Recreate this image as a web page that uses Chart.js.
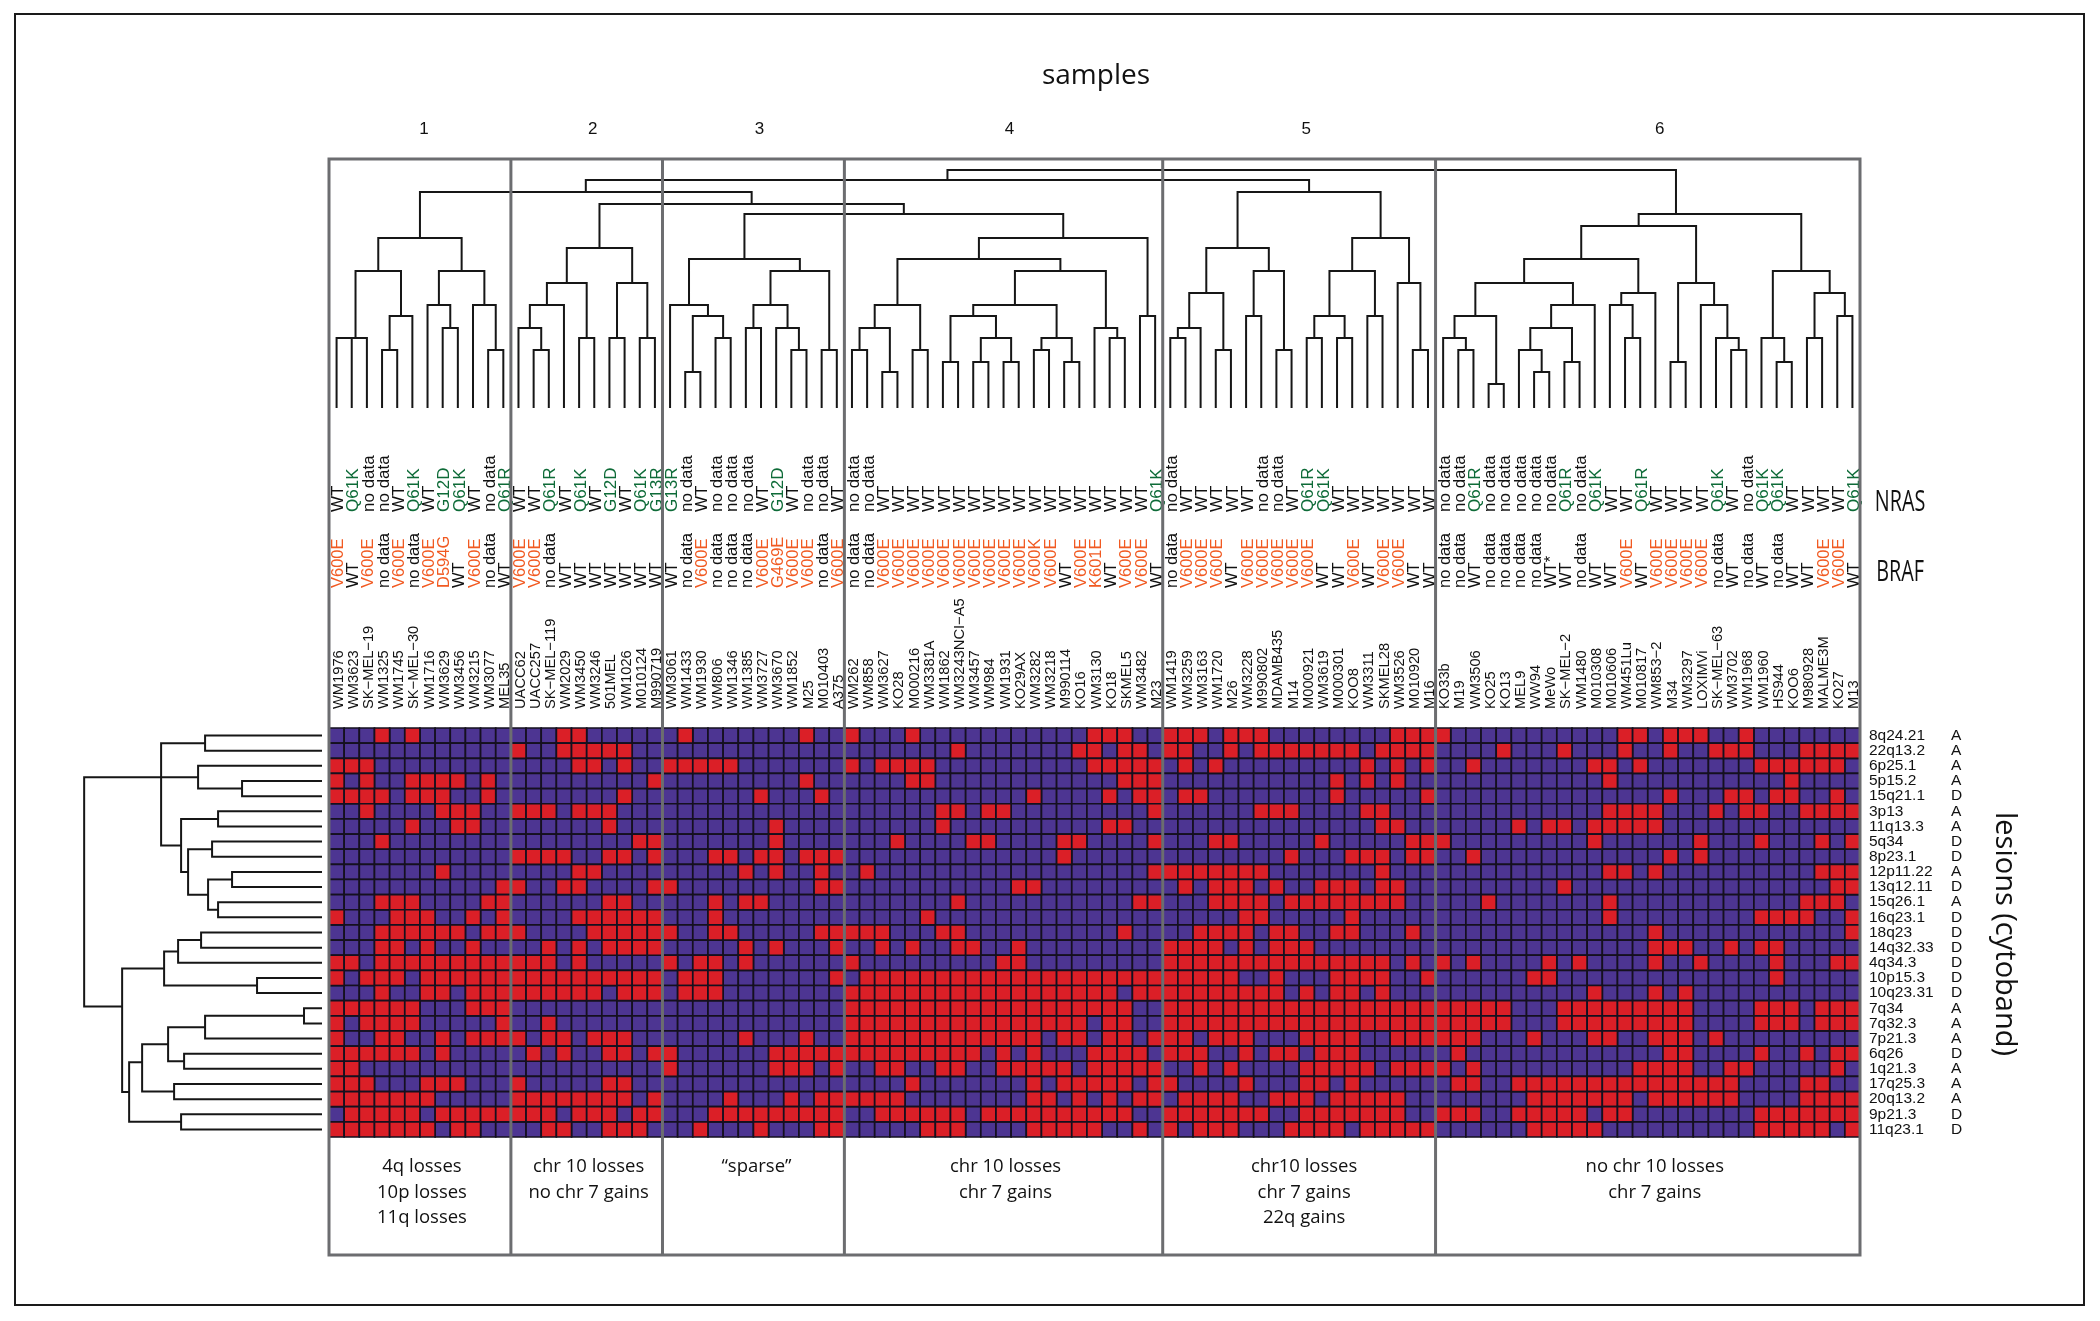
<!DOCTYPE html>
<html><head><meta charset="utf-8">
<style>html,body{margin:0;padding:0;background:#fff}canvas{display:block}</style>
<script src="https://cdn.jsdelivr.net/npm/chart.js@4"></script>
</head><body><canvas id="c" width="2100" height="1321"></canvas>
<script>
const samples = ["WM1976","WM3623","SK−MEL−19","WM1325","WM1745","SK−MEL−30","WM1716","WM3629","WM3456","WM3215","WM3077","MEL35",
"UACC62","UACC257","SK−MEL−119","WM2029","WM3450","WM3246","501MEL","WM1026","M010124","M990719",
"WM3061","WM1433","WM1930","WM806","WM1346","WM1385","WM3727","WM3670","WM1852","M25","M010403","A375",
"WM262","WM858","WM3627","KO28","M000216","WM3381A","WM1862","WM3243NCI−A5","WM3457","WM984","WM1931","KO29AX","WM3282","WM3218","M990114","KO16","WM3130","KO18","SKMEL5","WM3482","M23",
"WM1419","WM3259","WM3163","WM1720","M26","WM3228","M990802","MDAMB435","M14","M000921","WM3619","M000301","KOO8","WM3311","SKMEL28","WM3526","M010920","M16",
"KO33b","M19","WM3506","KO25","KO13","MEL9","WW94","MeWo","SK−MEL−2","WM1480","M010308","M010606","WM451Lu","M010817","WM853−2","M34","WM3297","LOXIMVi","SK−MEL−63","WM3702","WM1968","WM1960","HS944","KOO6","M980928","MALME3M","KO27","M13"];
const braf = ["V600E","WT","V600E","no data","V600E","no data","V600E","D594G","WT","V600E","no data","WT",
"V600E","V600E","no data","WT","WT","WT","WT","WT","WT","WT",
"WT","no data","V600E","no data","no data","no data","V600E","G469E","V600E","V600E","no data","V600E",
"no data","no data","V600E","V600E","V600E","V600E","V600E","V600E","V600E","V600E","V600E","V600E","V600K","V600E","WT","V600E","K601E","WT","V600E","V600E","WT",
"no data","V600E","V600E","V600E","WT","V600E","V600E","V600E","V600E","V600E","WT","WT","V600E","WT","V600E","V600E","WT","WT",
"no data","no data","WT","no data","no data","no data","no data","WT*","WT","no data","WT","WT","V600E","WT","V600E","V600E","V600E","V600E","no data","WT","no data","WT","no data","WT","WT","V600E","V600E","WT"];
const nras = ["WT","Q61K","no data","no data","WT","Q61K","WT","G12D","Q61K","WT","no data","Q61R",
"WT","WT","Q61R","WT","Q61K","WT","G12D","WT","Q61K","G13R",
"G13R","no data","WT","no data","no data","no data","WT","G12D","WT","no data","no data","WT",
"no data","no data","WT","WT","WT","WT","WT","WT","WT","WT","WT","WT","WT","WT","WT","WT","WT","WT","WT","WT","Q61K",
"no data","WT","WT","WT","WT","WT","no data","no data","WT","Q61R","Q61K","WT","WT","WT","WT","WT","WT","WT",
"no data","no data","Q61R","no data","no data","no data","no data","no data","Q61R","no data","Q61K","WT","WT","Q61R","WT","WT","WT","WT","Q61K","WT","no data","Q61K","Q61K","WT","WT","WT","WT","Q61K"];
const lesions = ["8q24.21","22q13.2","6p25.1","5p15.2","15q21.1","3p13","11q13.3","5q34","8p23.1","12p11.22","13q12.11","15q26.1","16q23.1","18q23","14q32.33","4q34.3","10p15.3","10q23.31","7q34","7q32.3","7p21.3","6q26","1q21.3","17q25.3","20q13.2","9p21.3","11q23.1"];
const lesionTypes = ["A","A","A","A","D","A","A","D","D","A","D","A","D","D","D","D","D","D","A","A","A","D","A","A","A","D","D"];
const clusterSizes = [12,10,12,21,18,28];
const clusterNames = ["1","2","3","4","5","6"];
const clusterNotes = [["4q losses","10p losses","11q losses"],["chr 10 losses","no chr 7 gains"],["“sparse”"],["chr 10 losses","chr 7 gains"],["chr10 losses","chr 7 gains","22q gains"],["no chr 10 losses","chr 7 gains"]];
// for each lesion (row): the sample columns that carry the lesion (red cells)
const lesionCols = [
[3,5,15,16,23,31,34,38,50,51,52,55,56,57,59,60,61,70,71,72,73,85,86,88,89,90,93],
[12,15,16,17,18,19,41,49,50,52,53,55,56,59,61,62,63,64,65,66,67,69,70,71,72,77,81,85,88,91,92,93,97,98,99,100],
[0,1,2,16,17,19,22,23,24,25,26,34,36,37,38,39,50,51,52,53,54,56,58,68,70,72,75,83,84,86,94,95,96,97,98,99],
[0,2,5,6,7,8,10,21,31,38,39,52,53,54,66,68,70,84,96],
[0,1,2,3,5,6,7,10,19,28,32,46,51,53,54,56,57,66,72,88,92,93,95,96,99],
[2,7,8,9,12,13,14,16,17,18,40,41,43,44,54,61,62,63,68,69,84,85,86,87,91,93,94,97,98,99,100],
[5,8,9,18,29,40,51,52,69,70,78,80,81,83,84,85,86,87],
[3,20,21,29,37,42,43,48,49,54,58,59,65,71,72,73,83,90,94,98,100],
[12,13,14,15,18,19,21,25,26,28,29,31,32,33,48,63,67,68,69,71,72,75,88,90],
[7,16,17,27,29,32,35,54,55,56,57,58,59,60,61,69,84,85,87,98,99,100],
[11,12,15,16,21,22,32,33,45,46,56,58,59,60,62,65,66,67,69,70,81,99,100],
[3,4,5,10,11,18,19,25,27,28,41,53,54,58,59,60,61,63,64,65,66,67,68,69,70,76,84,97,98,99],
[0,4,5,6,9,11,16,17,18,19,20,21,25,39,60,61,67,84,94,95,96,97,100],
[3,4,5,6,7,8,10,11,12,17,18,19,20,21,22,25,26,32,33,34,35,36,40,41,52,57,58,59,60,62,63,66,67,71,87,100],
[3,4,6,9,14,16,18,19,20,21,27,29,33,36,38,41,42,45,55,56,57,58,60,62,63,64,87,88,89,92,94,95],
[0,1,3,4,5,6,7,8,9,10,11,12,13,14,16,22,24,25,27,34,44,45,55,56,57,58,59,60,61,62,63,64,65,66,67,68,69,71,73,75,80,82,87,90,95,99,100],
[0,2,3,4,6,7,8,9,10,11,12,13,14,15,16,17,18,19,20,21,23,24,25,33,35,36,37,38,39,40,41,42,43,44,45,46,47,48,49,50,51,52,53,54,55,56,57,58,59,62,66,67,68,69,72,79,80,95],
[3,6,7,9,10,11,12,13,14,15,16,17,19,20,21,23,24,25,34,35,36,37,38,39,40,41,42,43,44,45,46,47,48,49,50,51,53,54,55,56,57,58,59,60,61,62,64,66,67,69,83,87,89],
[0,1,2,3,4,5,9,10,11,34,35,36,37,38,39,40,41,42,43,44,45,46,47,48,49,50,51,52,55,56,57,58,59,60,61,62,63,64,65,66,67,68,69,70,71,72,73,74,75,76,77,81,82,83,84,85,86,87,88,89,94,95,96,98,99,100],
[0,2,3,4,5,11,14,34,35,36,37,38,39,40,41,42,43,44,45,46,47,48,49,51,52,55,56,57,58,59,60,61,62,63,64,65,66,67,68,69,70,71,72,73,74,75,76,77,81,82,83,84,85,86,87,88,89,94,95,96,98,99,100],
[0,3,4,7,9,10,11,12,14,15,17,18,19,27,31,34,35,36,37,38,39,40,41,42,43,44,45,46,48,49,51,52,54,55,56,58,59,60,64,65,66,67,70,71,72,73,74,75,79,83,84,87,88,89,91],
[0,1,2,3,4,5,7,13,15,18,19,21,22,29,30,31,32,33,34,35,36,37,38,39,40,41,42,44,46,50,51,52,53,55,56,57,60,62,63,65,66,67,74,88,89,94,97,99,100],
[0,1,22,29,30,31,33,36,37,40,41,44,45,46,47,48,50,51,52,53,54,57,59,64,65,66,67,68,70,71,72,73,75,86,87,88,89,92,93,99],
[0,1,2,6,7,8,12,18,19,38,46,48,49,50,51,52,54,55,60,64,65,67,74,75,78,79,80,81,82,83,84,85,86,87,88,89,90,91,92,97,98],
[0,1,2,3,4,5,6,12,13,14,15,16,17,18,19,21,26,30,32,33,34,35,36,37,46,47,49,51,53,54,56,57,58,59,62,63,64,66,67,68,69,70,79,80,81,82,83,84,85,87,88,89,90,91,92,97,98,99,100],
[1,2,3,4,5,7,8,9,10,11,12,13,14,16,17,18,20,21,25,26,27,28,29,30,31,32,33,36,37,38,39,40,41,43,44,45,46,47,48,49,50,51,52,55,56,57,58,59,60,61,64,65,66,67,68,69,70,73,74,75,78,79,80,81,82,84,85,94,95,96,97,98,99,100],
[0,1,2,3,4,5,6,8,9,14,15,18,19,20,24,28,32,33,39,40,41,46,47,48,49,50,53,55,57,58,59,63,64,65,66,68,69,70,71,72,79,80,81,82,83,94,95,96,97,98,100]
];
// dendrograms: [merge height, child, child, (optional drawn position)]; a number is a leaf
const clusters1to4 = [216,[170,[137,[70,[70,0,1],2],[92,[58,3,4],5]],[137,[103,6,[80,7,8]],[103,9,[58,10,11]]]],
  [204,[160,[125,[103,[80,12,[58,13,14]],15],[70,16,17]],[125,[70,18,19],[70,20,21]]],
   [194,[149,[103,22,[92,[36,23,24],[70,25,26]]],[137,[103,[80,27,28],[80,29,[58,30,31]]],[58,32,33]]],
    [170,[149,[103,[80,[58,34,35],[36,36,37]],[58,38,39]],[137,[103,[92,[46,40,41],[70,[46,42,43],[46,44,45]]],[70,[58,46,47],[46,48,49]]],[80,50,[70,51,52]]]],[92,53,54]]]]];
const cluster5 = [216,[160,[115,[80,[70,55,56],57],[58,58,59]],[137,[92,60,61],[58,62,63]]],
  [170,[137,[92,[70,64,65],[70,66,67]],[92,68,69]],[125,70,[58,71,72]]]];
const cluster6 = [194,[182,[149,[125,[92,[70,73,[58,74,75]],[24,76,77]],[103,[80,[58,78,[36,79,80]],[46,81,82]],83]],[115,[103,84,[70,85,86]],87]],
  [125,[46,88,89],[103,90,[70,91,[58,92,93]]]]],
  [137,[70,94,[46,95,96]],[115,[70,97,98],[92,99,100]]],88.36];
const sampleTree = [238,[228,clusters1to4,cluster5],cluster6];
const lesionTree = [238,
  [161,[117,0,1],[161,[124,2,[80,3,4]],[141,[104,5,6],[134,[110,7,8],[114,[90,9,10],[104,11,12]]]]]],
  [200,[158,[144,[121,13,14],15],[65,16,17]],
   [193,[180,[154,[117,[18,18,19],20],[138,21,22]],[148,23,24],21.56],[141,25,26]],17.89]];

const CELL = 15.17, HEAT = {l:329, t:728, r:1861, b:1137};
const RED = '#DB1F27', PURPLE = '#4D3592', GRID = '#15101f', INK = '#161616', FRAME = '#6c6d70';
const SANS = '"Liberation Sans", Arial, sans-serif', MYRIAD = '"Open Sans", sans-serif';

const redCells = [], purpleCells = [];
lesions.forEach((les, r) => samples.forEach((s, c) => {
  (lesionCols[r].includes(c) ? redCells : purpleCells).push({x:s, y:les});
}));
function treeLines(node, out, emit){
  if (typeof node === 'number') return {pos:node, h:0};
  const A = treeLines(node[1], out, emit), B = treeLines(node[2], out, emit), h = node[0];
  out.push(emit(A.pos,A.h), emit(A.pos,h), emit(B.pos,h), emit(B.pos,B.h), {x:null,y:null});
  return {pos: node[3] !== undefined ? node[3] : (A.pos+B.pos)/2, h};
}
const topLines = [], leftLines = [];
treeLines(sampleTree, topLines, (p,h)=>({x:p,y:h}));
treeLines(lesionTree, leftLines, (p,h)=>({x:h,y:p}));

const fixedH = (labels, weight, H, pad, size, colorFn) => ({
  type:'category', position:'top', labels, weight, offset:true,
  grid:{display:false, drawTicks:false}, border:{display:false},
  afterFit:s=>{s.height=H},
  ticks:{autoSkip:false, minRotation:90, maxRotation:90, padding:pad, color:colorFn,
         labelOffset:size*1.2+2, font:{family:SANS, size}}
});
const fixedW = (labels, weight, W, pad) => ({
  type:'category', position:'right', labels, weight, offset:true,
  grid:{display:false, drawTicks:false}, border:{display:false},
  afterFit:s=>{s.width=W},
  ticks:{autoSkip:false, padding:pad, color:'#111', font:{family:SANS, size:15.5}}
});
const mutColor = (muts,col) => ctx => (muts[ctx.index]==='WT'||muts[ctx.index]==='WT*'||muts[ctx.index]==='no data') ? '#111' : col;

const cellStyle = {showLine:false, pointStyle:'rect', pointRadius:CELL/Math.SQRT2, pointBorderWidth:1.7,
  pointBorderColor:GRID, pointHoverRadius:CELL/Math.SQRT2, clip:false, xAxisID:'x', yAxisID:'y'};
const treeStyle = {showLine:true, pointRadius:0, borderColor:INK, borderWidth:2, tension:0, spanGaps:false, clip:false, fill:false};

const decor = {
  id:'decor',
  beforeDraw(ch){ const c=ch.ctx; c.save(); c.fillStyle='#fff'; c.fillRect(0,0,2100,1321); c.restore(); },
  afterDraw(ch){
    const c=ch.ctx, xs=ch.scales.xCol;
    c.save();
    c.strokeStyle='#1a1a1a'; c.lineWidth=2; c.strokeRect(15,14,2069,1291);
    const edges=[-0.5]; clusterSizes.forEach(n=>edges.push(edges[edges.length-1]+n));
    const px=edges.map(e=>xs.getPixelForValue(e));
    c.strokeStyle=FRAME; c.lineWidth=3;
    const T=159,B=1255;
    c.beginPath(); c.moveTo(px[0]-1.5,T); c.lineTo(px[6]+1.5,T); c.moveTo(px[0]-1.5,B); c.lineTo(px[6]+1.5,B);
    px.forEach(p=>{c.moveTo(p,T); c.lineTo(p,B)}); c.stroke();
    c.textAlign='center'; c.textBaseline='middle'; c.fillStyle='#111';
    const numDx=[4,6,6,6,7,12], noteDx=[2,2,3,2,5,7];
    clusterNames.forEach((n,i)=>{
      const m=(px[i]+px[i+1])/2;
      c.font='17px '+SANS; c.fillText(n,m+numDx[i],129);
      c.font='18.5px '+MYRIAD;
      clusterNotes[i].forEach((t,j)=>c.fillText(t,m+noteDx[i],1167+j*25.5));
    });
    c.font='28px '+MYRIAD; c.fillText('samples',1096,76);
    c.save(); c.translate(2004,934); c.rotate(Math.PI/2); c.font='29px '+MYRIAD; c.fillText('lesions (cytoband)',0,0); c.restore();
    [['NRAS',502],['BRAF',572]].forEach(([t,y])=>{
      c.save(); c.translate(1900,y); c.scale(0.66,1); c.font='30px '+MYRIAD; c.fillText(t,0,0); c.restore();
    });
    c.restore();
  }
};

new Chart(document.getElementById('c'),{
  type:'scatter',
  data:{datasets:[
    Object.assign({label:'lesion present',data:redCells,backgroundColor:RED,pointBackgroundColor:RED},cellStyle),
    Object.assign({label:'lesion absent',data:purpleCells,backgroundColor:PURPLE,pointBackgroundColor:PURPLE},cellStyle),
    Object.assign({label:'sample dendrogram',data:topLines,xAxisID:'xCol',yAxisID:'yTop'},treeStyle),
    Object.assign({label:'lesion dendrogram',data:leftLines,xAxisID:'xLeft',yAxisID:'yRow'},treeStyle)
  ]},
  options:{
    responsive:false, animation:false, events:[], devicePixelRatio:1,
    layout:{padding:{left:HEAT.l, top:425, right:116, bottom:1321-HEAT.b}},
    plugins:{legend:{display:false},title:{display:false},tooltip:{enabled:false}},
    scales:{
      x: fixedH(samples,1,140,19,14.7,'#111'),
      xBraf: fixedH(braf,2,63,0,16.5,mutColor(braf,'#F15A22')),
      xNras: fixedH(nras,3,100,13,17,mutColor(nras,'#0E6B38')),
      y: fixedW(lesions,0,85,9),
      yType: fixedW(lesionTypes,1,39,6),
      xCol:{type:'linear',axis:'x',display:false,min:-0.5,max:100.5},
      yRow:{type:'linear',axis:'y',display:false,min:-0.5,max:26.5,reverse:true},
      yTop:{type:'linear',axis:'y',display:false,min:-729,max:-320},
      xLeft:{type:'linear',axis:'x',display:false,min:-1539,max:-7,reverse:true}
    }
  },
  plugins:[decor]
});
</script></body></html>
